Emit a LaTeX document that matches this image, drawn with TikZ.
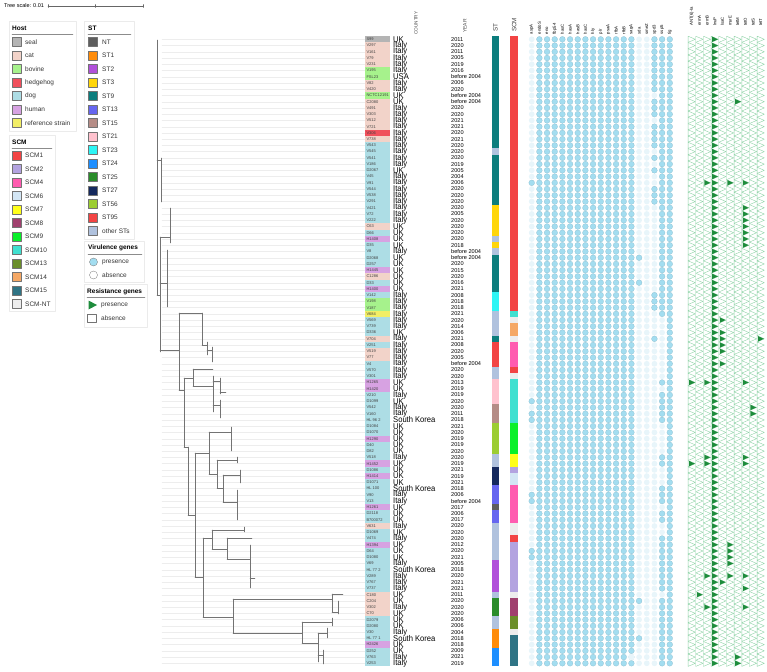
\documentclass[tikz,border=0pt]{standalone}
\usepackage{fontspec}
\setmainfont{Liberation Sans}
%% host colours
\definecolor{hseal}{HTML}{B4B4B4}
\definecolor{hcat}{HTML}{F2D3C9}
\definecolor{hbov}{HTML}{A6F28C}
\definecolor{hhed}{HTML}{F0505C}
\definecolor{hdog}{HTML}{ADDDE5}
\definecolor{hhum}{HTML}{D7A2E2}
\definecolor{href}{HTML}{F2EE66}
%% ST colours
\definecolor{stnt}{HTML}{5E5E5E}
\definecolor{st1}{HTML}{FF8C0A}
\definecolor{st2}{HTML}{B150DA}
\definecolor{st3}{HTML}{FFD60A}
\definecolor{st9}{HTML}{0B7D7D}
\definecolor{st13}{HTML}{6666F0}
\definecolor{st15}{HTML}{B58C86}
\definecolor{st21}{HTML}{FFC2CE}
\definecolor{st23}{HTML}{2EF5F5}
\definecolor{st24}{HTML}{1E8FFF}
\definecolor{st25}{HTML}{2A8C2A}
\definecolor{st27}{HTML}{15295E}
\definecolor{st56}{HTML}{9CCD32}
\definecolor{st95}{HTML}{F24444}
\definecolor{stoth}{HTML}{B0C2DE}
%% SCM colours
\definecolor{scm1}{HTML}{F24444}
\definecolor{scm2}{HTML}{B3A3E0}
\definecolor{scm4}{HTML}{FF5CB0}
\definecolor{scm6}{HTML}{D3E6F5}
\definecolor{scm7}{HTML}{FFFF1A}
\definecolor{scm8}{HTML}{A0406E}
\definecolor{scm9}{HTML}{0AF02A}
\definecolor{scm10}{HTML}{40E0D0}
\definecolor{scm13}{HTML}{6B8E2A}
\definecolor{scm14}{HTML}{F5A865}
\definecolor{scm15}{HTML}{2F7485}
\definecolor{scmnt}{HTML}{EDEDED}
%% gene marks
\definecolor{vblue}{HTML}{A3DDF0}
\definecolor{vfaint}{HTML}{E8F5FA}
\definecolor{rgreen}{HTML}{1E8C3C}
\definecolor{rlight}{HTML}{8ED2A6}
\begin{document}
\begin{tikzpicture}[x=1pt,y=-1pt,line join=round,line cap=round]
\tikzset{
  legtxt/.style={anchor=west,font=\fontsize{6.5}{7}\selectfont,text=black!80,inner sep=0},
  legttl/.style={anchor=west,font=\bfseries\fontsize{6.5}{7}\selectfont,inner sep=0},
  swatch/.style={draw=black!55,line width=0.3pt,minimum size=9pt,inner sep=0},
  legbox/.style={draw=black!8,line width=0.4pt},
  leaf/.style={anchor=west,font=\fontsize{4}{4}\selectfont,text=black!75,inner sep=0},
  ctry/.style={anchor=west,font=\fontsize{7.6}{8}\selectfont,inner sep=0},
  yeartxt/.style={anchor=west,font=\fontsize{5.6}{6}\selectfont,inner sep=0},
  colhead/.style={rotate=90,anchor=west,font=\fontsize{4.3}{5}\selectfont,inner sep=0},
  vpres/.style={fill=vblue,draw=vblue!85!black,line width=0.2pt},
  vabs/.style={fill=vfaint},
  rabs/.style={draw=rlight,line width=0.4pt},
  rpres/.style={fill=rgreen},
  tree/.style={draw=black!55,line width=0.45pt},
}
\useasboundingbox (0,0) rectangle (767,671);
\def\vx{531.7}
\def\rx{691.7}
\def\dx{7.67}

%% tree scale
\node[anchor=west,font=\fontsize{5.5}{6}\selectfont,inner sep=0] (scale) at (4,6) {Tree scale: 0.01};
\draw[black!60,line width=0.4pt] (48,6) -- (143,6);
\foreach \t in {48,95.5,143} \draw[black!60,line width=0.4pt] (\t,4.5) -- (\t,7.5);

%% legends
\draw[legbox] (9,21) rectangle (76,131);
\draw[legbox] (9,135) rectangle (55,311);
\draw[legbox] (84,21) rectangle (134,239);
\draw[legbox] (84,241) rectangle (144,282);
\draw[legbox] (84,284) rectangle (147,327);
\node[legttl] (thost) at (12,28) {Host};
\draw[black!45,line width=0.4pt] (12,34.5) -- (73,34.5);
\foreach \n/\c [count=\k] in {seal/hseal,cat/hcat,bovine/hbov,hedgehog/hhed,dog/hdog,human/hhum,reference strain/href}
  {\node[swatch,fill=\c] (hs\k) at (16.5,{42+13.5*(\k-1)}) {};
   \node[legtxt] (ht\k) at (25,{42+13.5*(\k-1)}) {\n};}
\node[legttl] (tscm) at (12,142) {SCM};
\draw[black!45,line width=0.4pt] (12,148.5) -- (52,148.5);
\foreach \n/\c [count=\k] in {SCM1/scm1,SCM2/scm2,SCM4/scm4,SCM6/scm6,SCM7/scm7,SCM8/scm8,SCM9/scm9,SCM10/scm10,SCM13/scm13,SCM14/scm14,SCM15/scm15,SCM-NT/scmnt}
  {\node[swatch,fill=\c] (cs\k) at (16.5,{155.5+13.5*(\k-1)}) {};
   \node[legtxt] (ct\k) at (25,{155.5+13.5*(\k-1)}) {\n};}
\node[legttl] (tst) at (88,28) {ST};
\draw[black!45,line width=0.4pt] (88,34.5) -- (131,34.5);
\foreach \n/\c [count=\k] in {NT/stnt,ST1/st1,ST2/st2,ST3/st3,ST9/st9,ST13/st13,ST15/st15,ST21/st21,ST23/st23,ST24/st24,ST25/st25,ST27/st27,ST56/st56,ST95/st95,other STs/stoth}
  {\node[swatch,fill=\c] (ss\k) at (92.8,{42+13.5*(\k-1)}) {};
   \node[legtxt] (st\k) at (102,{42+13.5*(\k-1)}) {\n};}
\node[legttl] (tvir) at (88,248) {Virulence genes};
\draw[black!45,line width=0.4pt] (88,254) -- (142,254);
\draw[fill=vblue,draw=black!55,line width=0.3pt] (93.5,262) circle (4);
\node[legtxt] (vp) at (102,262) {presence};
\draw[fill=white,draw=black!55,line width=0.3pt] (93.5,275) circle (4);
\node[legtxt] (va) at (102,275) {absence};
\node[legttl] (tres) at (87,291.5) {Resistance genes};
\draw[black!45,line width=0.4pt] (87,297.5) -- (145,297.5);
\fill[rgreen] (88.5,300.5) -- (88.5,309.5) -- (97,305) -- cycle;
\node[legtxt] (rp) at (101,305) {presence};
\draw[fill=white,draw=black!55,line width=0.3pt] (87.5,314) rectangle (96.5,322.5);
\node[legtxt] (ra) at (101,318) {absence};

%% leader lines
\foreach \i in {1,...,101} \draw[black!7,line width=0.3pt] (162,{39.3+6.24*(\i-1)}) -- (365,{39.3+6.24*(\i-1)});

%% tree
\foreach \a/\b/\c/\d in {157/40/157/295,157/160/161/160,161/158/161/202,157/295/160/295,
  160/237/160/352,160/237/170/237,170/208/170/243,160/283/167/283,167/250/167/307,
  160/350/179/350,179/313/179/390,179/313/202/313,202/313/202/345,202/345/207/345,
  207/342/207/355,207/350/212/350,212/347/212/362,179/390/184/390,184/378/184/447,
  184/378/193/378,193/369/193/386,193/369/213/369,193/386/213/386,213/376/213/412,
  213/381/220/381,220/378/220/394,220/392/226/392,213/405/220/405,220/400/220/418,
  184/447/188/447,188/447/188/515,188/515/195/515,195/453/195/577,195/453/209/453,
  209/432/209/474,209/432/231/432,231/427/231/451,209/474/217/474,217/460/217/488,
  217/460/237/460,237/457/237/463,217/488/223/488,223/475/223/502,223/475/240/475,
  240/470/240/483,223/502/237/502,237/490/237/520,195/577/203/577,203/538/203/617,
  203/538/212/538,212/530/212/549,212/530/244/530,244/527/244/532,212/549/227/549,
  227/538/227/559,227/538/252/538,227/559/250/559,250/545/250/588,250/578/255/578,
  203/617/233/617,233/599/233/633,233/599/332/599,332/594/332/612,332/594/343/594,
  332/612/338/612,338/601/338/614,233/633/302/633,302/622/302/643,302/622/332/622,
  332/618/332/626,302/643/318/643,318/633/318/662,318/633/327/633,327/628/327/638,
  318/655/323/655,323/650/323/664}
  \draw[tree] (\a,\b) -- (\c,\d);

%% column headings
\node[colhead,font=\fontsize{4.7}{5}\selectfont,text=black!70] (hcountry) at (416,35) {COUNTRY};
\node[colhead,font=\fontsize{5}{5}\selectfont,text=black!70] (hyear) at (465,33) {YEAR};
\node[colhead,font=\fontsize{6.3}{7}\selectfont,text=black!75] (hst) at (495.5,32) {ST};
\node[colhead,font=\fontsize{6.3}{7}\selectfont,text=black!75] (hscm) at (514.2,32) {SCM};
\foreach \g [count=\k from 0] in {aspA,endoS,eno,fbp54,hasC,hasA,hasB,hasC,hly,plr,psaA,rfbA,rfbB,sagA,sda,smeZ,spd3,ssp5,tig}
  \node[colhead] (vg\k) at ({\vx+\dx*\k},34.5) {\g};
\foreach \g [count=\k from 0] in {ANT(6)-Ia,ermA,ermB,lnuP,lsaC,msrE,tetM,tetO,tetS,tetT}
  \node[colhead] (rg\k) at ({\rx+\dx*\k},26) {\g};

%% isolates: number/label/host/country/year/ST/SCM
\foreach \i/\lab/\host/\ctry/\yr/\st/\scm in {
 1/S99/seal/UK/2011/9/1, 2/V297/cat/Italy/2020/9/1, 3/V161/cat/Italy/2011/9/1,
 4/V79/cat/Italy/2005/9/1, 5/V231/cat/Italy/2019/9/1, 6/V195/bov/Italy/2016/9/1,
 7/FSL23/bov/USA/before 2004/9/1, 8/V82/cat/Italy/2006/9/1, 9/V420/cat/Italy/2020/9/1,
 10/NCTC12191/bov/UK/before 2004/9/1, 11/C2080/cat/UK/before 2004/9/1, 12/V491/cat/Italy/2020/9/1,
 13/V303/cat/Italy/2020/9/1, 14/V512/cat/Italy/2021/9/1, 15/V721/cat/Italy/2021/9/1,
 16/V306/hed/Italy/2020/9/1, 17/V738/cat/Italy/2021/9/1, 18/V543/dog/Italy/2020/9/1,
 19/V545/dog/Italy/2020/oth/1, 20/V541/dog/Italy/2020/9/1, 21/V186/dog/Italy/2019/9/1,
 22/D2067/dog/UK/2005/9/1, 23/V45/dog/Italy/2004/9/1, 24/V91/dog/Italy/2006/9/1,
 25/V544/dog/Italy/2020/9/1, 26/V538/dog/Italy/2020/9/1, 27/V291/dog/Italy/2020/9/1,
 28/V421/dog/Italy/2020/3/1, 29/V72/dog/Italy/2005/3/1, 30/V222/dog/Italy/2020/3/1,
 31/C63/cat/UK/2020/3/1, 32/D66/dog/UK/2020/3/1, 33/H1408/hum/UK/2020/oth/1,
 34/D35/dog/UK/2018/3/1, 35/V8/dog/Italy/before 2004/oth/1, 36/D2068/dog/UK/before 2004/9/1,
 37/D257/dog/UK/2020/9/1, 38/H1445/hum/UK/2015/9/1, 39/C1286/cat/UK/2020/9/1,
 40/D33/dog/UK/2016/9/1, 41/H1400/hum/UK/2021/9/1, 42/V142/dog/Italy/2008/23/1,
 43/V198/bov/Italy/2018/23/1, 44/V187/bov/Italy/2018/23/1, 45/V684/ref/Italy/2021/oth/10,
 46/V569/dog/Italy/2020/oth/nt, 47/V739/dog/Italy/2014/oth/14, 48/D336/dog/UK/2006/oth/14,
 49/V704/cat/Italy/2021/9/nt, 50/V251/dog/Italy/2008/95/4, 51/V519/cat/Italy/2020/95/4,
 52/V77/cat/Italy/2005/95/4, 53/V4/dog/Italy/before 2004/95/4, 54/V570/dog/Italy/2020/oth/1,
 55/V301/dog/Italy/2020/oth/nt, 56/H1265/hum/UK/2013/21/10, 57/H1420/hum/UK/2019/21/10,
 58/V210/dog/Italy/2019/21/10, 59/D1099/dog/UK/2020/21/10, 60/V542/dog/Italy/2020/15/10,
 61/V160/dog/Italy/2011/15/10, 62/HL 96 2/dog/South Korea/2018/15/10, 63/D1084/dog/UK/2021/56/9,
 64/D1070/dog/UK/2020/56/9, 65/H1290/hum/UK/2019/56/9, 66/D40/dog/UK/2019/56/9,
 67/D82/dog/UK/2020/56/9, 68/V518/dog/Italy/2020/oth/7, 69/H1452/hum/UK/2019/oth/7,
 70/D1086/dog/UK/2021/27/2, 71/H1414/hum/UK/2019/27/6, 72/D1071/dog/UK/2021/27/6,
 73/HL 100/dog/South Korea/2018/13/4, 74/V90/dog/Italy/2006/13/4, 75/V13/dog/Italy/before 2004/13/4,
 76/H1261/hum/UK/2017/nt/4, 77/D2118/dog/UK/2006/13/4, 78/B700072/dog/UK/2017/13/4,
 79/V631/cat/Italy/2020/oth/nt, 80/D1069/dog/UK/2020/oth/nt, 81/V474/dog/Italy/2020/oth/1,
 82/H1394/hum/UK/2012/oth/2, 83/D64/dog/UK/2020/oth/2, 84/D1080/dog/UK/2021/oth/2,
 85/V69/dog/Italy/2005/2/2, 86/HL 77 2/dog/South Korea/2018/2/2, 87/V289/dog/Italy/2020/2/2,
 88/V767/dog/Italy/2021/2/2, 89/V737/dog/Italy/2021/2/2, 90/C180/cat/UK/2011/oth/nt,
 91/C204/cat/UK/2020/25/8, 92/V302/cat/Italy/2020/25/8, 93/C70/cat/UK/2020/25/8,
 94/D2079/dog/UK/2006/oth/13, 95/D2080/dog/UK/2006/oth/13, 96/V30/dog/Italy/2004/1/nt,
 97/HL 77 1/dog/South Korea/2018/1/15, 98/H2426/hum/UK/2018/1/15, 99/D252/dog/UK/2009/24/15,
 100/V763/dog/Italy/2021/24/15, 101/V253/dog/Italy/2019/24/15}
{
  \pgfmathsetmacro\y{39.3+6.24*(\i-1)}
  \fill[fill=h\host] (365,\y-3.13) rectangle (390,\y+3.13);
  \node[leaf] (lab\i) at (366.3,\y) {\lab};
  \node[ctry] (cty\i) at (393,\y) {\scalebox{1}[1.1]{\ctry}};
  \node[yeartxt] (yr\i) at (451,\y) {\yr};
  \fill[fill=st\st] (491.7,\y-3.13) rectangle (499.3,\y+3.13);
  \fill[fill=scm\scm] (510,\y-3.13) rectangle (518.3,\y+3.13);
  %% virulence genes
  \foreach \c in {0,14,15,16,17} \fill[vabs] ({\vx+\dx*\c},\y) circle (2.9);
  \foreach \c in {1,...,13,18} \draw[vpres] ({\vx+\dx*\c},\y) circle (2.9);
  %% resistance genes
  \foreach \c in {0,...,9} \draw[rabs] ({\rx+\dx*\c-3.6},\y-3.1) -- ({\rx+\dx*\c-3.6},\y+3.1) -- ({\rx+\dx*\c+3.6},\y) -- cycle;
}

%% virulence genes present in some isolates only
\foreach \c/\rows in {0/{24,59,61,62,74,75,83,84},14/{36,40,91,97},
  16/{1,2,3,4,5,6,7,8,9,11,12,13,15,16,17,18,20,22,25,26,27,42,43,44,49},
  17/{1,...,45,56,58,59,60,61,62,68,69,73,74,75,77,78,81,82,83,84,85,86,87,88,89,91,92,93,94,95,96,97,98,99,100,101}}
  \foreach \i in \rows \draw[vpres] ({\vx+\dx*\c},{39.3+6.24*(\i-1)}) circle (2.9);
\foreach \i in {100} {\fill[white] ({\vx+\dx*13},{39.3+6.24*(\i-1)}) circle (3.1);
  \fill[vabs] ({\vx+\dx*13},{39.3+6.24*(\i-1)}) circle (2.9);}

%% resistance genes present
\foreach \c/\rows in {0/{56,69},1/{90},2/{24,56,68,69,87,92},3/{1,...,101},4/{46,48,49,50,51,53,88},
  5/{24,82,83,84,85,87},6/{11,100,101},7/{24,28,29,30,31,32,33,34,56,68,69,87,89,92},8/{60,61},9/{49}}
  \foreach \i in \rows \fill[rpres] ({\rx+\dx*\c-2.6},{39.3+6.24*(\i-1)-2.7}) -- ({\rx+\dx*\c-2.6},{39.3+6.24*(\i-1)+2.7}) -- ({\rx+\dx*\c+3.2},{39.3+6.24*(\i-1)}) -- cycle;
\end{tikzpicture}
\end{document}
